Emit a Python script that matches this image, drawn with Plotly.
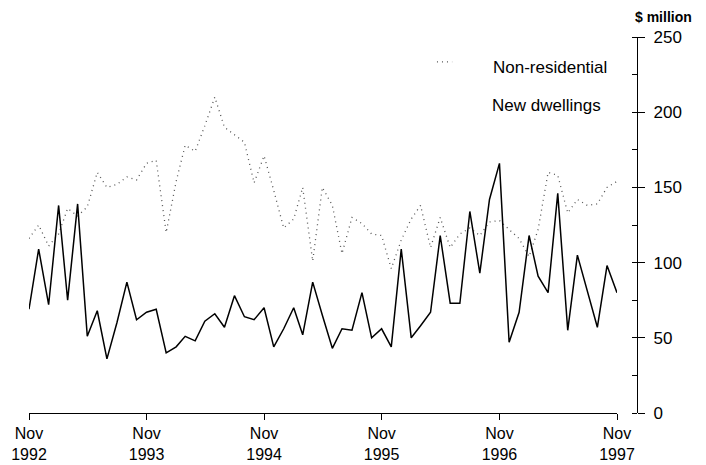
import pandas as pd
import plotly.graph_objects as go

months = pd.date_range("1992-11-01", periods=61, freq="MS")

new_dwellings = [69, 109, 72, 138, 75, 139, 51, 68, 36, 60, 87, 62, 67, 69, 40,
                 44, 51, 48, 61, 66, 57, 78, 64, 62, 70, 44, 56, 70, 52, 87,
                 65, 43, 56, 55, 80, 50, 56, 44, 109, 50, 58, 67, 118, 73, 73,
                 134, 93, 142, 166, 47, 67, 118, 91, 80, 146, 55, 105, 81, 57, 98,
                 80]

non_residential = [116, 125, 111, 119, 136, 131, 137, 160, 150, 152, 157, 155, 166, 168, 120,
                   154, 178, 174, 191, 210, 190, 185, 180, 153, 171, 148, 123, 129, 150, 101,
                   150, 138, 106, 130, 126, 119, 118, 96, 115, 129, 138, 110, 130, 110, 119,
                   123, 118, 127, 128, 122, 116, 104, 122, 160, 158, 133, 142, 138, 139, 150,
                   154]

tick_dates = pd.date_range("1992-11-01", periods=6, freq="12MS")
tick_labels = ["Nov<br>1992", "Nov<br>1993", "Nov<br>1994", "Nov<br>1995", "Nov<br>1996", "Nov<br>1997"]
y_ticks = [0, 50, 100, 150, 200, 250]

FONT = "Liberation Sans, Arial, Helvetica, sans-serif"
DOT = "1px,4px"

fig = go.Figure()
fig.add_trace(go.Scatter(x=months, y=non_residential, mode="lines", name="Non-residential",
                         line=dict(color="#555555", width=1.3, dash=DOT)))
fig.add_trace(go.Scatter(x=months, y=new_dwellings, mode="lines", name="New dwellings",
                         line=dict(color="black", width=1.5)))

# page body has an 8px margin, so the figure is sized to fill the rest of the window
fig.update_layout(
    width=698, height=457,
    margin=dict(l=21, r=69, t=29, b=52),
    paper_bgcolor="white", plot_bgcolor="white",
    showlegend=False,
    font=dict(family=FONT, size=16, color="black"),
    xaxis=dict(
        domain=[0, 588 / 608],
        range=[months[0], months[-1]],
        tickvals=tick_dates, ticktext=tick_labels,
        showgrid=False, zeroline=False,
        showline=True, linecolor="black", linewidth=1,
        ticks="outside", ticklen=6, tickcolor="black",
        tickfont=dict(size=16), automargin=False,
    ),
    yaxis=dict(
        range=[0, 250], side="right", anchor="free", position=1.0,
        tickvals=y_ticks,
        showgrid=False, zeroline=False,
        showline=True, linecolor="black", linewidth=1.2,
        ticks="outside", ticklen=7, tickcolor="black",
        ticklabelstandoff=5,
        minor=dict(dtick=25, tick0=0, ticks="inside", ticklen=5, tickcolor="black"),
        tickfont=dict(size=17), automargin=False,
    ),
)

fig.add_shape(type="line", xref="paper", yref="paper",
              x0=0.671, x1=0.696, y0=0.934, y1=0.934,
              line=dict(color="#555555", width=1.3, dash=DOT))

fig.add_annotation(text="Non-residential", xref="paper", yref="paper",
                   x=0.760, y=0.920, xanchor="left", yanchor="middle",
                   showarrow=False, font=dict(size=17))
fig.add_annotation(text="New dwellings", xref="paper", yref="paper",
                   x=0.758, y=0.819, xanchor="left", yanchor="middle",
                   showarrow=False, font=dict(size=17))
fig.add_annotation(text="<b>$ million</b>", xref="paper", yref="paper",
                   x=1.043, y=1.053, xanchor="center", yanchor="middle",
                   showarrow=False, font=dict(size=14))

fig.write_html("out.html")
